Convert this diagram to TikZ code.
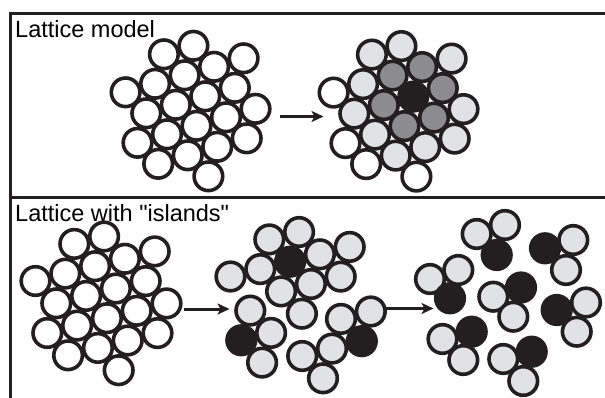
\documentclass[tikz,border=0pt]{standalone}
\usepackage{fontspec}
\setmainfont{Liberation Sans}
\usetikzlibrary{arrows.meta,calc}
\definecolor{ink}{RGB}{35,31,32}
\definecolor{lite}{RGB}{225,226,228}
\definecolor{mid}{RGB}{140,140,142}
\begin{document}
\begin{tikzpicture}[x=1pt,y=-1pt,
  ball/.style={circle, draw=ink, line width=3.6pt, minimum size=28.6pt, inner sep=0pt, outer sep=0pt},
  frame/.style={draw=ink, line width=3pt},
  arr/.style={draw=ink, line width=3pt, -{Stealth[length=12pt,width=11pt,inset=3pt]}},
  lbl/.style={anchor=base west, inner sep=0pt, font=\fontsize{23.5}{28}\selectfont, text=black}]
\useasboundingbox (0,0) rectangle (605,398);
% frame
\coordinate (ftl) at (10,13.3);
\coordinate (ftr) at (605,13.3);
\coordinate (fml) at (10,197.5);
\coordinate (fmr) at (605,197.5);
\coordinate (fbl) at (10,398);
\draw[frame] (ftr) -- (ftl) -- (fbl);
\draw[frame] (fml) -- (fmr);
% labels
\node[lbl] (t1) at (15,37.5) {Lattice model};
\node[lbl] (t2) at (15,221.5) {Lattice with \textquotedbl islands\textquotedbl};
% top-left lattice
\foreach \i/\j [count=\k] in {0/-1,1/-1,1/0,2/0,-2/0,-1/0,0/0,1/1,0/1,-1/1,-2/1,1/2,0/2,-1/2,-2/2,-3/2,0/3,-1/3,-2/3,-3/3,-2/4}
  \node[ball, fill=white] (tl\k) at ({184.6+\i*29.5+\j*20.7},{75.3-\i*8.5+\j*21}) {};
% top-right lattice
\foreach \i/\j/\c [count=\k] in {0/-1/lite,1/-1/lite,1/0/mid,2/0/lite,-2/0/white,-1/0/lite,0/0/mid,1/1/mid,0/1/ink,-1/1/mid,-2/1/lite,1/2/lite,0/2/mid,-1/2/mid,-2/2/lite,-3/2/white,0/3/lite,-1/3/lite,-2/3/lite,-3/3/white,-2/4/white}
  \node[ball, fill=\c] (tr\k) at ({392.6+\i*29.5+\j*20.7},{75.6-\i*8.5+\j*21}) {};
% bottom-left lattice
\foreach \i/\j [count=\k] in {0/-1,1/-1,1/0,2/0,-2/0,-1/0,0/0,1/1,0/1,-1/1,-2/1,1/2,0/2,-1/2,-2/2,-3/2,0/3,-1/3,-2/3,-3/3,-2/4}
  \node[ball, fill=white] (bl\k) at ({95.1+\i*29.8+\j*20.8},{266.2-\i*7.4+\j*22.3}) {};
% bottom-middle: main island
\foreach \i/\j/\c [count=\k] in {0/-1/lite,1/-1/lite,-2/0/lite,-1/0/lite,0/0/ink,1/0/lite,2/0/lite,-1/1/lite,0/1/lite,1/1/lite,-1/2/lite}
  \node[ball, fill=\c] (bma\k) at ({290.1+\i*29.8+\j*20.8},{261.7-\i*7.4+\j*22.3}) {};
% bottom-middle: lower-left island
\foreach \i/\j/\c [count=\k] in {-2/1/lite,-3/2/ink,-2/2/lite,-3/3/lite}
  \node[ball, fill=\c] (bmb\k) at ({289.1+\i*29.8+\j*20.8},{273.5-\i*7.4+\j*22.3}) {};
% bottom-middle: lower-right island
\foreach \i/\j/\c [count=\k] in {0/2/lite,1/2/lite,0/3/ink,-1/3/lite,-2/3/lite,-2/4/lite}
  \node[ball, fill=\c] (bmc\k) at ({299.4+\i*29.8+\j*20.8},{274.3-\i*7.4+\j*22.3}) {};
% bottom-right: triplets
\foreach \x/\y/\c [count=\k] in {
  476.7/234/lite, 505/225/lite, 496.7/255/ink,
  545/248.3/ink, 573.3/240/lite, 566/270/lite,
  430/279/lite, 458.3/270/lite, 450/298.3/ink,
  493.3/296.7/lite, 521/287.5/ink, 513.3/316.7/lite,
  556.7/310/ink, 586/302.5/lite, 576.7/331.7/lite,
  471.7/331.7/ink, 442.5/339/lite, 463.3/360/lite,
  531.7/351.7/ink, 503.3/359/lite, 523.3/381/lite}
  \node[ball, fill=\c] (br\k) at (\x,\y) {};
% arrows
\coordinate (a1s) at (280,116.5);
\coordinate (a1e) at (323.5,116.5);
\coordinate (a2s) at (184,309);
\coordinate (a2e) at (229.5,309);
\coordinate (a3s) at (386,308.5);
\coordinate (a3e) at (433.5,308.5);
\draw[arr] (a1s) -- (a1e);
\draw[arr] (a2s) -- (a2e);
\draw[arr] (a3s) -- (a3e);
\end{tikzpicture}
\end{document}
